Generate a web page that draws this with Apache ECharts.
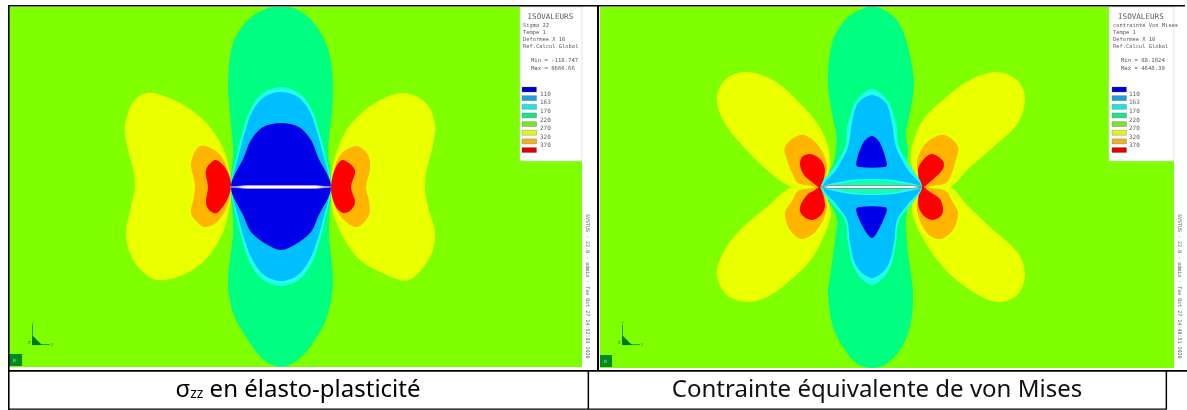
<!DOCTYPE html>
<html><head><meta charset="utf-8">
<style>html,body{margin:0;padding:0;background:#fff}#c{width:1187px;height:410px;filter:blur(0.4px)}</style>
<script src="https://cdn.jsdelivr.net/npm/echarts@6/dist/echarts.min.js"></script>
</head><body><div id="c"></div>
<script>
// Isovalue levels
const isoLabels = ['110','163','170','220','270','320','370'];
const swatchColors = ['#0000c8','#1f9fe0','#25e0e0','#22e090','#80e030','#e8f020','#f0b020','#e00000'];
const fieldColors = {teal:'#00ff80',cyan:'#20ffe8',sky:'#00bfff',blue:'#0000e8',yellow:'#eaff00',orange:'#ffb400',red:'#ff0000',white:'#ffffff'};
const bgGreen = '#80ff00';

// --- sigma zz contours: [x, y] relative to the crack centre
const szTeal = [[-51,0],[-49,20],[-48,37],[-51,74],[-53,104],[-48,144],[-33,167],[-18,177],[0,181],[19,176],[36,160],[48,135],[52,104],[51,74],[47,37],[49,20],[50,0],[49,-20],[48,-46],[52,-96],[46,-130],[32,-156],[17,-173],[0,-180],[-17,-173],[-33,-153],[-48,-126],[-53,-96],[-48,-46],[-49,-20]];
const szCyan = [[-50,0],[-43,37],[-38,56],[-31,77],[-18,94],[0,100],[18,94],[31,77],[38,56],[43,37],[50,0],[43,-37],[38,-56],[31,-76],[18,-93],[0,-99],[-18,-93],[-31,-76],[-38,-56],[-43,-37]];
const szSky = [[-49,0],[-41,37],[-36,55],[-29,75],[-17,90],[0,95],[17,90],[29,75],[36,55],[41,37],[49,0],[41,-37],[36,-54],[29,-72],[17,-88],[0,-94],[-17,-88],[-29,-72],[-36,-54],[-41,-37]];
const szBlue = [[-50,0],[-37,30],[-30,47],[-18,60],[0,64],[18,60],[30,47],[37,30],[50,0],[37,-30],[30,-45],[15,-57],[0,-63],[-15,-57],[-30,-45],[-37,-30]];
const szYellowL = [[-50,0],[-56,34],[-71,60],[-91,78],[-114,90],[-134,94],[-148,85],[-156,60],[-153,37],[-148,18],[-146,0],[-150,-20],[-155,-46],[-151,-66],[-141,-82],[-124,-93],[-98,-88],[-74,-71],[-56,-40]];
const szYellowR = [[50,0],[54,30],[69,62],[96,85],[122,94],[144,85],[154,64],[152,42],[146,18],[144,0],[147,-20],[154,-46],[149,-70],[128,-93],[106,-88],[76,-70],[54,-32]];
const szOrangeL = [[-50,0],[-54,20],[-64,35],[-81,41],[-90,24],[-87,8],[-86,0],[-87,-10],[-90,-26],[-84,-35],[-76,-40],[-64,-35],[-54,-20]];
const szOrangeR = [[50,0],[52,14],[60,33],[76,41],[87,32],[89,18],[85,0],[88,-14],[88,-28],[76,-40],[61,-31],[52,-14]];
const szRedL = [[-50,0],[-52,12],[-58,22],[-66,27],[-75,17],[-73,0],[-75,-16],[-71,-24],[-64,-26],[-54,-13]];
const szRedR = [[50,0],[52,12],[56,22],[62,27],[74,17],[70,0],[74,-15],[70,-23],[62,-26],[55,-20],[51,-9]];
const szCrack = [[-51,0],[-34,1.5],[34,1.5],[50,0],[34,-1.5],[-34,-1.5]];

// --- von Mises contours
const vmTeal = [[-52,0],[-40,20],[-36,37],[-36,54],[-40,74],[-44,104],[-40,144],[-27,167],[-12,177],[0,181],[12,177],[25,167],[35,144],[42,104],[38,74],[34,54],[36,37],[36,20],[50,0],[36,-20],[35,-56],[41,-106],[38,-140],[28,-163],[13,-178],[0,-181],[-13,-178],[-25,-166],[-39,-140],[-44,-106],[-42,-90],[-36,-46],[-35,-33],[-40,-20]];
const vmCyan = [[-51,0],[-38,20],[-27,40],[-24,64],[-15,87],[0,98],[15,87],[24,64],[27,40],[39,20],[50,0],[39,-18],[27,-33],[24,-56],[17,-83],[0,-98],[-17,-83],[-24,-56],[-27,-33],[-39,-18]];
const vmSky = [[-49,0],[-36,17],[-24,40],[-20,64],[-14,84],[0,92],[14,84],[20,64],[24,40],[36,17],[49,0],[36,-17],[25,-33],[22,-56],[15,-80],[0,-91],[-15,-80],[-22,-56],[-25,-33],[-36,-17]];
const vmLensOuter = [[-49,0],[-25,6.5],[0,8],[25,6.5],[49,0],[25,-6.5],[0,-8],[-25,-6.5]];
const vmLensInner = [[-42,0],[-20,5.5],[0,7],[20,5.5],[42,0],[20,-5.5],[0,-7],[-20,-5.5]];
const vmBlueTop = [[-16,23],[-9,44],[0,51],[8,44],[15,23],[13,20],[-13,20]];
const vmBlueBot = [[-16,-23],[-13,-20],[13,-20],[15,-23],[8,-40],[0,-51],[-9,-40]];
const vmYellowTL = [[-52,0],[-42,20],[-45,44],[-55,64],[-75,87],[-99,107],[-125,115],[-145,109],[-155,90],[-149,67],[-132,44],[-105,17],[-80,0]];
const vmYellowBL = [[-52,0],[-80,0],[-105,-20],[-132,-43],[-149,-66],[-155,-88],[-145,-108],[-125,-115],[-105,-110],[-85,-96],[-59,-70],[-42,-33],[-42,-20]];
const vmYellowTR = [[50,0],[40,20],[40,40],[51,67],[71,87],[98,107],[125,115],[145,107],[153,90],[146,64],[118,37],[95,17],[78,0]];
const vmYellowBR = [[50,0],[78,0],[95,-18],[118,-40],[146,-66],[153,-88],[145,-108],[125,-115],[98,-103],[71,-80],[48,-46],[40,-20]];
const vmOrangeTL = [[-52,0],[-45,17],[-49,34],[-59,47],[-72,52],[-87,40],[-84,24],[-80,14],[-74,4],[-60,1]];
const vmOrangeBL = [[-52,0],[-60,-1],[-74,-4],[-80,-14],[-87,-26],[-82,-43],[-70,-52],[-55,-43],[-45,-20]];
const vmOrangeTR = [[50,0],[45,24],[51,40],[61,49],[73,52],[86,40],[83,24],[80,14],[74,4],[60,1]];
const vmOrangeBR = [[50,0],[60,-1],[74,-4],[80,-14],[86,-26],[81,-43],[68,-52],[55,-46],[45,-23]];
const vmRedTL = [[-52,0],[-60,5],[-68,12],[-72,22],[-70,30],[-62,33],[-52,28],[-47,17]];
const vmRedBL = [[-52,0],[-47,-17],[-50,-27],[-60,-33],[-70,-28],[-72,-20],[-65,-8],[-57,-3]];
const vmRedTR = [[50,0],[46,17],[51,27],[60,33],[71,26],[71,18],[58,5]];
const vmRedBR = [[50,0],[58,-5],[68,-12],[71,-22],[69,-29],[60,-33],[51,-28],[46,-17]];
const vmCrack = [[-52,0],[-42,1.5],[40,1.5],[50,0],[40,-1.5],[-42,-1.5]];

// Text
const capLeft = 'σ';
const capLeftSub = 'zz';
const capLeftRest = ' en élasto-plasticité';
const capRight = 'Contrainte équivalente de von Mises';
const headLeft = ['Sigma 22','Tempe 1','Deformee X 10','Ref.Calcul Global'];
const headRight = ['contrainte Von Mises','Tempe 1','Deformee X 10','Ref.Calcul Global'];
const minMaxLeft = ['Min = -118.747','Max = 8666.66'];
const minMaxRight = ['Min = 88.1824','Max = 4648.39'];
const stampLeft = 'SYSTUS - 22.8 - admin - Tue Oct 27 14:52:03 2020';
const stampRight = 'SYSTUS - 22.8 - admin - Tue Oct 27 14:48:51 2020';

function poly(name, pts, color, gridIndex, smooth, stroke){
  return {type:'custom',name,xAxisIndex:gridIndex,yAxisIndex:gridIndex,coordinateSystem:'cartesian2d',clip:true,silent:true,
    data:pts,encode:{x:0,y:1},
    renderItem(params,api){
      if(params.dataIndex!==0) return null;
      return {type:'polygon',shape:{points:pts.map(p=>api.coord(p)),smooth:smooth===undefined?0.33:smooth},
        style:{fill:color,stroke:stroke||null,lineWidth:stroke?0.8:0}};
    }};
}
const F = fieldColors;
const series = [
  poly('teal',szTeal,F.teal,0),poly('yl',szYellowL,F.yellow,0),poly('yr',szYellowR,F.yellow,0),
  poly('ol',szOrangeL,F.orange,0),poly('or',szOrangeR,F.orange,0),poly('rl',szRedL,F.red,0),poly('rr',szRedR,F.red,0),
  poly('cyan',szCyan,F.cyan,0),poly('sky',szSky,F.sky,0),poly('blue',szBlue,F.blue,0),poly('crack',szCrack,F.white,0,0,'#a898ff'),

  poly('teal',vmTeal,F.teal,1),
  poly('y1',vmYellowTL,F.yellow,1),poly('y2',vmYellowBL,F.yellow,1),poly('y3',vmYellowTR,F.yellow,1),poly('y4',vmYellowBR,F.yellow,1),
  poly('o1',vmOrangeTL,F.orange,1),poly('o2',vmOrangeBL,F.orange,1),poly('o3',vmOrangeTR,F.orange,1),poly('o4',vmOrangeBR,F.orange,1),
  poly('r1',vmRedTL,F.red,1),poly('r2',vmRedBL,F.red,1),poly('r3',vmRedTR,F.red,1),poly('r4',vmRedBR,F.red,1),
  poly('cyan',vmCyan,F.cyan,1),poly('sky',vmSky,F.sky,1),poly('lo',vmLensOuter,F.cyan,1),poly('li',vmLensInner,'#10ffb0',1),
  poly('bt',vmBlueTop,F.blue,1),poly('bb',vmBlueBot,F.blue,1),poly('crack',vmCrack,F.white,1,0,'#808080')
];

const mono = '"DejaVu Sans Mono", monospace';
const tc = '#5a5a5a';
function txt(x,y,s,size,extra){return Object.assign({type:'text',x,y,silent:true,z:20,
  style:{text:s,font:size+'px '+mono,fill:tc,textVerticalAlign:'middle'}},extra||{});}
function rect(x,y,w,h,fill,z,extra){return Object.assign({type:'rect',silent:true,z:z||20,shape:{x,y,width:w,height:h},style:{fill}},extra||{});}

function legendBox(x0,w,head,mm,titleX,textX,mmX,swX,labX){
  const out=[rect(x0,7,w,154,'#ffffff',15,{style:{fill:'#fff',stroke:'#c8d8c8',lineWidth:0.6}})];
  out.push(txt(titleX,17,'ISOVALEURS',7.6));
  head.forEach((s,i)=>out.push(txt(textX,26+i*7,s,5.4)));
  mm.forEach((s,i)=>out.push(txt(mmX,61+i*7.7,s,5.6)));
  swatchColors.forEach((c,i)=>out.push(rect(swX,87+i*8.65,14.5,5,c,20,{style:{fill:c,stroke:'#557',lineWidth:0.3}})));
  isoLabels.forEach((s,i)=>out.push(txt(labX,94+i*8.65,s,6)));
  return out;
}
function triad(x,y0,rx,rw,rh,ry){
  return [
    rect(x,y0,0.8,20,'#0a8a2a'),
    rect(x,y0+19.3,18,0.8,'#0a8a2a'),
    {type:'polygon',silent:true,z:20,shape:{points:[[x,y0+10],[x,y0+20],[x+10,y0+20]]},style:{fill:'#007a20'}},
    txt(x-0.5,y0-1.5,'Y',3.5,{style:{text:'Y',font:'4px '+mono,fill:'#6a8a3a',textVerticalAlign:'middle'}}),
    txt(x+19,y0+20,'X',4,{style:{text:'X',font:'4px '+mono,fill:'#6a8a3a',textVerticalAlign:'middle'}}),
    txt(x-4,y0+18,'Z',4,{style:{text:'Z',font:'4px '+mono,fill:'#2a6a2a',textVerticalAlign:'middle'}}),
    rect(rx,ry,rw,rh,'#028a1e'),
    txt(rx+4,ry+7,'0',4.5,{style:{text:'0',font:'4.5px '+mono,fill:'#b8e8a8',textVerticalAlign:'middle'}})
  ];
}
function stamp(x,s){return {type:'text',silent:true,z:20,x,y:214,rotation:-Math.PI/2,
  style:{text:s,font:'5px '+mono,fill:tc,textVerticalAlign:'middle'}};}

const graphic = [
  rect(8,5,1.6,405,'#000',30),
  rect(8,5,1177,1.4,'#000',30),
  rect(597,5,2,366,'#000',30),
  rect(8,370,1179,1.8,'#000',30),
  rect(8,408.6,1159,1.2,'#000',30),
  rect(587.6,370,1.5,39,'#000',30),
  rect(1165.6,370,1.5,39,'#000',30),
  ...legendBox(520,62,headLeft,minMaxLeft,527.5,523,531,522,540),
  ...legendBox(1109,65,headRight,minMaxRight,1118,1113,1121,1112,1129),
  ...triad(32,325,9,13,12,354),
  ...triad(622,325,600,12,12,355),
  stamp(587,stampLeft),
  stamp(1179,stampRight),
  {type:'text',silent:true,z:20,x:298,y:390,style:{
    text:'{a|'+capLeft+'}{b|'+capLeftSub+'}{a|'+capLeftRest+'}',align:'center',verticalAlign:'middle',
    rich:{a:{fontSize:24,fontFamily:'Noto Sans',color:'#111'},
          b:{fontSize:14,fontFamily:'Noto Sans',color:'#111',padding:[9,0,0,0]}}}},
  {type:'text',silent:true,z:20,x:877,y:390,style:{text:capRight,font:'24px "Noto Sans"',fill:'#111',align:'center',verticalAlign:'middle'}}
];

const hidden = {show:false};
const chart = echarts.init(document.getElementById('c'),null,{renderer:'canvas'});
chart.setOption({
  animation:false,backgroundColor:'#fff',
  grid:[
    {left:9,top:7,width:573,height:360,show:true,backgroundColor:bgGreen,borderWidth:0},
    {left:600,top:7,width:574,height:361,show:true,backgroundColor:bgGreen,borderWidth:0}
  ],
  xAxis:[
    {type:'value',gridIndex:0,min:-272,max:301,...hidden},
    {type:'value',gridIndex:1,min:-272,max:302,...hidden}
  ],
  yAxis:[
    {type:'value',gridIndex:0,min:-180,max:180,...hidden},
    {type:'value',gridIndex:1,min:-181,max:180,...hidden}
  ],
  series,graphic
});
</script></body></html>
